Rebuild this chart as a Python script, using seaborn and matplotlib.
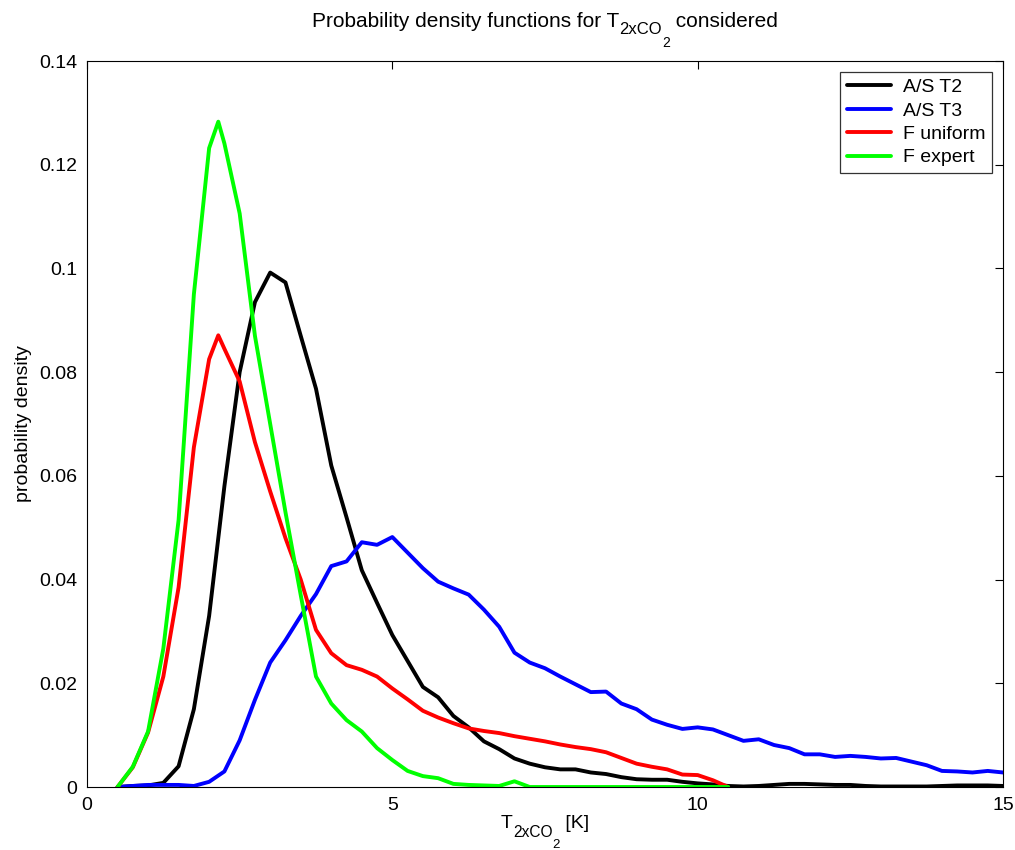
import numpy as np
import pandas as pd
import matplotlib
matplotlib.use("Agg")
import matplotlib.pyplot as plt
import seaborn as sns
from matplotlib.ticker import FuncFormatter

# ---- data ----
x_as = [0.5, 0.75, 1.0, 1.25, 1.5, 1.75, 2.0, 2.25, 2.5, 2.75, 3.0, 3.25, 3.5, 3.75,
        4.0, 4.25, 4.5, 4.75, 5.0, 5.25, 5.5, 5.75, 6.0, 6.25, 6.5, 6.75, 7.0, 7.25,
        7.5, 7.75, 8.0, 8.25, 8.5, 8.75, 9.0, 9.25, 9.5, 9.75, 10.0, 10.25, 10.5,
        10.75, 11.0, 11.25, 11.5, 11.75, 12.0, 12.25, 12.5, 12.75, 13.0, 13.25, 13.5,
        13.75, 14.0, 14.25, 14.5, 14.75, 15.0]

as_t2 = [0.0, 0.0002, 0.0003, 0.0008, 0.004, 0.015, 0.033, 0.058, 0.080, 0.0935,
         0.0992, 0.0973, 0.087, 0.0768, 0.062, 0.052, 0.0418, 0.0355, 0.0293, 0.0243,
         0.0193, 0.0173, 0.0137, 0.0115, 0.0088, 0.0073, 0.0055, 0.0045, 0.0038,
         0.0034, 0.0034, 0.0028, 0.0025, 0.0019, 0.0015, 0.0014, 0.0014, 0.0010,
         0.0007, 0.0005, 0.0002, 0.0001, 0.0002, 0.0004, 0.0006, 0.0006, 0.0005,
         0.0004, 0.0004, 0.0002, 0.0001, 0.0001, 0.0001, 0.0001, 0.0002, 0.0003,
         0.0003, 0.0003, 0.0002]

as_t3 = [0.0, 0.0002, 0.0004, 0.0004, 0.0004, 0.0002, 0.001, 0.003, 0.009, 0.0168,
         0.024, 0.0283, 0.033, 0.0372, 0.0426, 0.0435, 0.0472, 0.0467, 0.0482, 0.0452,
         0.0422, 0.0396, 0.0383, 0.0371, 0.0342, 0.0309, 0.0259, 0.024, 0.0229,
         0.0213, 0.0198, 0.0183, 0.0184, 0.0161, 0.015, 0.013, 0.012, 0.0112, 0.0115,
         0.0111, 0.0100, 0.0089, 0.0092, 0.0081, 0.0075, 0.0063, 0.0063, 0.0058,
         0.006, 0.0058, 0.0055, 0.0056, 0.0049, 0.0042, 0.0031, 0.003, 0.0028,
         0.0031, 0.0028]

x_f = [0.5, 0.75, 1.0, 1.25, 1.5, 1.75, 2.0, 2.15, 2.25, 2.5, 2.75, 3.0, 3.25, 3.5,
       3.75, 4.0, 4.25, 4.5, 4.75, 5.0, 5.25, 5.5, 5.75, 6.0, 6.25, 6.5, 6.75, 7.0,
       7.25, 7.5, 7.75, 8.0, 8.25, 8.5, 8.75, 9.0, 9.25, 9.5, 9.75, 10.0, 10.25, 10.5]

f_uniform = [0.0, 0.0038, 0.0105, 0.0213, 0.0385, 0.0655, 0.0825, 0.0871, 0.0845,
             0.0782, 0.0665, 0.057, 0.048, 0.040, 0.0303, 0.0258, 0.0235, 0.0226,
             0.0213, 0.019, 0.0169, 0.0147, 0.0134, 0.0123, 0.0113, 0.0108, 0.0104,
             0.0098, 0.0093, 0.0088, 0.0082, 0.0077, 0.0073, 0.0067, 0.0056, 0.0045,
             0.0039, 0.0034, 0.0024, 0.0023, 0.0013, 0.0]

f_expert = [0.0, 0.0039, 0.0107, 0.0267, 0.0515, 0.095, 0.1232, 0.1283, 0.1241,
            0.1106, 0.087, 0.070, 0.053, 0.037, 0.0213, 0.0161, 0.0129, 0.0107,
            0.0075, 0.0052, 0.0031, 0.0021, 0.0017, 0.0006, 0.0004, 0.0003, 0.0002,
            0.0011, 0.0, 0.0, 0.0, 0.0, 0.0, 0.0, 0.0, 0.0, 0.0, 0.0, 0.0, 0.0, 0.0, 0.0]

series_names = ["A/S T2", "A/S T3", "F uniform", "F expert"]
series_colors = ["#000000", "#0000ff", "#ff0000", "#00ff00"]

x_ticks = [0, 5, 10, 15]
y_ticks = [0, 0.02, 0.04, 0.06, 0.08, 0.1, 0.12, 0.14]

# title / x label as MATLAB-style pieces: (text, level) level 0=normal, 1=sub, 2=subsub
title_pieces = [("Probability density functions for T", 0), ("2xCO", 1), ("2", 2),
                (" considered", 0)]
xlabel_pieces = [("T", 0), ("2xCO", 1), ("2", 2), (" [K]", 0)]
ylabel_text = "probability density"

# ---- style ----
sns.set_style("white")
plt.rcParams["font.family"] = ["Liberation Sans", "DejaVu Sans"]
plt.rcParams["text.color"] = "black"
plt.rcParams["axes.labelcolor"] = "black"

FS = 14
W, H = 1015, 850

fig = plt.figure(figsize=(W / 100, H / 100), dpi=100)
ax = fig.add_axes([87 / W, 63 / H, (1003 - 87) / W, (787 - 61) / H])

frames = [
    pd.DataFrame({"x": x_as, "y": as_t2}),
    pd.DataFrame({"x": x_as, "y": as_t3}),
    pd.DataFrame({"x": x_f, "y": f_uniform}),
    pd.DataFrame({"x": x_f, "y": f_expert}),
]
for df, name, col in zip(frames, series_names, series_colors):
    sns.lineplot(data=df, x="x", y="y", ax=ax, color=col, linewidth=2.8,
                 label=name, estimator=None, sort=False)

ax.set_xlim(0, 15)
ax.set_ylim(0, 0.14)
ax.set_xticks(x_ticks)
ax.set_yticks(y_ticks)
ax.yaxis.set_major_formatter(FuncFormatter(lambda v, p: "%g" % v))
ax.tick_params(direction="in", length=6, width=0.8, top=True, right=True,
               labelsize=FS, colors="black", pad=7)
for s in ax.spines.values():
    s.set_color("black")
    s.set_linewidth(0.8)

ax.set_xlabel("")
ax.set_ylabel(ylabel_text, fontsize=FS, labelpad=5, color="black")

leg = ax.legend(loc="upper right", fontsize=FS, frameon=True, fancybox=False,
                edgecolor="black", borderaxespad=0.55, handlelength=2.3,
                labelspacing=0.3, borderpad=0.35, handletextpad=0.6)
leg.get_frame().set_linewidth(0.9)
for line in leg.get_lines():
    line.set_linewidth(2.8)
for t in leg.get_texts():
    t.set_color("black")

# ---- MATLAB-like subscript text rendering ----
renderer = fig.canvas.get_renderer()


def draw_pieces(pieces, sizes, x_center_px, baseline_px, offsets):
    widths = []
    for s, lvl in pieces:
        t = fig.text(0, 0, s, fontsize=sizes[lvl])
        widths.append(t.get_window_extent(renderer).width)
        t.remove()
    total = sum(widths)
    x = x_center_px - total / 2
    for (s, lvl), w in zip(pieces, widths):
        y = baseline_px + offsets[lvl]
        fig.text(x / W, (H - y) / H, s, fontsize=sizes[lvl], color="black",
                 ha="left", va="baseline")
        x += w


draw_pieces(title_pieces, {0: 15, 1: 12, 2: 10}, 545, 27, {0: 0, 1: 7, 2: 20})
draw_pieces(xlabel_pieces, {0: FS, 1: 11.2, 2: 9.5}, 545, 828, {0: 0, 1: 9, 2: 20})

fig.savefig("out.png", dpi=100, facecolor="white")
